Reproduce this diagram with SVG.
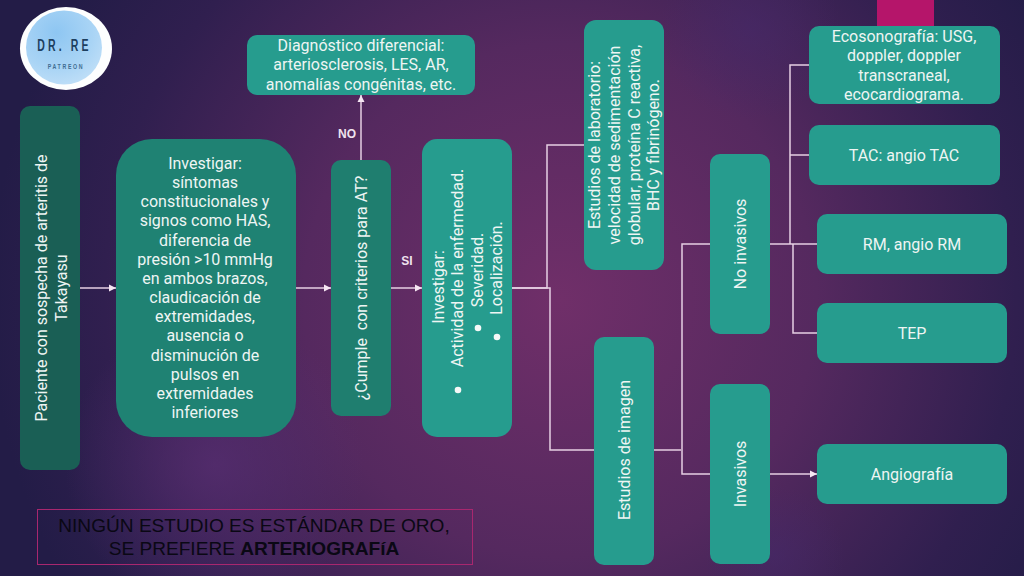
<svg xmlns="http://www.w3.org/2000/svg" width="1024" height="576" viewBox="0 0 1024 576">
<defs>
<radialGradient id="bg" gradientUnits="userSpaceOnUse" cx="560" cy="300" r="570"><stop offset="0" stop-color="#702f69"/><stop offset="0.45" stop-color="#55295f"/><stop offset="0.8" stop-color="#301f4f"/><stop offset="1" stop-color="#231c47"/></radialGradient>
<radialGradient id="g1" gradientUnits="userSpaceOnUse" cx="750" cy="30" r="90"><stop offset="0" stop-color="#452a6c" stop-opacity="0.5"/><stop offset="1" stop-color="#452a6c" stop-opacity="0"/></radialGradient>
<radialGradient id="g2" gradientUnits="userSpaceOnUse" cx="775" cy="556" r="70"><stop offset="0" stop-color="#452a6c" stop-opacity="0.5"/><stop offset="1" stop-color="#452a6c" stop-opacity="0"/></radialGradient>
<radialGradient id="g3" gradientUnits="userSpaceOnUse" cx="215" cy="465" r="150"><stop offset="0" stop-color="#5a2f74" stop-opacity="0.7"/><stop offset="1" stop-color="#5a2f74" stop-opacity="0"/></radialGradient>
<radialGradient id="blue" cx="0.4" cy="0.3" r="0.8"><stop offset="0" stop-color="#8ec6f2"/><stop offset="0.6" stop-color="#a9d4f5"/><stop offset="1" stop-color="#c4e1f8"/></radialGradient>
<marker id="arr" markerWidth="8" markerHeight="8" refX="7" refY="4" orient="auto" markerUnits="userSpaceOnUse"><path d="M0 0.5L7 4L0 7.5Z" fill="#f6e6f3"/></marker>
</defs>
<style>
.t{font-family:Roboto,"Liberation Sans",sans-serif;font-size:16px;fill:#eef5f3;text-anchor:middle}
.s{font-family:"Liberation Sans",Arial,sans-serif;font-size:12px;font-weight:700;fill:#efe3ee;text-anchor:middle}
.c{fill:none;stroke:#e6cfe3;stroke-width:1.5}
.a{marker-end:url(#arr)}
.n{fill:#269c8e}
.b{fill:#f6f8f7}
.k{font-family:"Liberation Sans",Arial,sans-serif;font-size:19.1px;fill:#0a0814;text-anchor:middle}
</style>
<rect width="1024" height="576" fill="url(#bg)"/>
<rect width="1024" height="576" fill="url(#g1)"/>
<rect width="1024" height="576" fill="url(#g2)"/>
<rect width="1024" height="576" fill="url(#g3)"/>
<rect x="877" y="0" width="57" height="27" fill="#b5156a"/>

<g id="connectors">
<path class="c a" d="M80 288H116"/>
<path class="c a" d="M296 288H331"/>
<path class="c a" d="M391 288H422"/>
<path class="c a" d="M361 160V95"/>
<path class="c" d="M512 288H547V145H584"/>
<path class="c" d="M512 288H550V450H594"/>
<path class="c" d="M654 450H681"/>
<path class="c" d="M710 244H682V474H710"/>
<path class="c a" d="M770 474H817"/>
<path class="c" d="M770 244H817"/>
<path class="c" d="M809 65H790V244"/>
<path class="c" d="M790 155H809"/>
<path class="c" d="M793 244V333H817"/>
</g>

<g id="logo">
<ellipse cx="66" cy="48.5" rx="46" ry="41.5" fill="#fdfefe"/>
<ellipse cx="64" cy="47.5" rx="38" ry="37" fill="url(#blue)"/>
<text transform="translate(64.5 51) scale(.62 1)" font-family="'Liberation Sans',sans-serif" font-size="17" font-weight="700" fill="#1d3f5f" text-anchor="middle" letter-spacing="5">DR. RE</text>
<text transform="translate(66 69) scale(.7 1)" font-family="'Liberation Sans',sans-serif" font-size="7.5" font-weight="700" fill="#3f6d92" text-anchor="middle" letter-spacing="2.4">PATREON</text>
</g>

<g id="sospecha">
<rect x="20" y="106" width="60" height="364" rx="10" fill="#1a5f55"/>
<text class="t" transform="translate(47 288) rotate(-90)">Paciente con sospecha de arteritis de</text>
<text class="t" transform="translate(67 288) rotate(-90)">Takayasu</text>
</g>

<g id="investigar-sintomas">
<rect x="116" y="139" width="180" height="298" rx="36" fill="#1f8273"/>
<text class="t"><tspan x="205" y="169">Investigar:</tspan><tspan x="205" y="188">síntomas</tspan><tspan x="205" y="207">constitucionales y</tspan><tspan x="205" y="226">signos como HAS,</tspan><tspan x="205" y="246">diferencia de</tspan><tspan x="205" y="265">presión &gt;10 mmHg</tspan><tspan x="205" y="284">en ambos brazos,</tspan><tspan x="205" y="303">claudicación de</tspan><tspan x="205" y="322">extremidades,</tspan><tspan x="205" y="341">ausencia o</tspan><tspan x="205" y="361">disminución de</tspan><tspan x="205" y="380">pulsos en</tspan><tspan x="205" y="399">extremidades</tspan><tspan x="205" y="418">inferiores</tspan></text>
</g>

<g id="criterios">
<rect x="331" y="160" width="60" height="256" rx="10" fill="#1f7e6f"/>
<text class="t" xml:space="preserve" transform="translate(367 288) rotate(-90)">¿Cumple  con criterios para AT?</text>
</g>
<text class="s" x="347" y="138">NO</text>
<text class="s" x="407" y="265">SI</text>

<g id="investigar-actividad">
<rect x="422" y="139" width="90" height="298" rx="15" class="n"/>
<text class="t" transform="translate(444 287) rotate(-90)">Investigar:</text>
<text class="t" transform="translate(463 268) rotate(-90)">Actividad de la enfermedad.</text>
<text class="t" transform="translate(483 270) rotate(-90)">Severidad.</text>
<text class="t" transform="translate(502 268) rotate(-90)">Localización.</text>
<circle class="b" cx="458" cy="390" r="3.3"/>
<circle class="b" cx="478" cy="328" r="3.3"/>
<circle class="b" cx="497" cy="337" r="3.3"/>
</g>

<g id="diagnostico">
<rect x="247" y="35" width="228" height="60" rx="10" class="n"/>
<text class="t"><tspan x="361" y="51">Diagnóstico diferencial:</tspan><tspan x="361" y="70">arteriosclerosis, LES, AR,</tspan><tspan x="361" y="90">anomalías congénitas, etc.</tspan></text>
</g>

<g id="laboratorio">
<rect x="584" y="20" width="80" height="250" rx="12" class="n"/>
<text class="t" transform="translate(600 145) rotate(-90)">Estudios de laboratorio:</text>
<text class="t" transform="translate(620 145) rotate(-90)">velocidad de sedimentación</text>
<text class="t" transform="translate(640 145) rotate(-90)">globular, proteína C reactiva,</text>
<text class="t" transform="translate(659 145) rotate(-90)">BHC y fibrinógeno.</text>
</g>

<g id="imagen">
<rect x="594" y="337" width="60" height="228" rx="10" class="n"/>
<text class="t" transform="translate(630 450) rotate(-90)">Estudios de imagen</text>
</g>

<g id="no-invasivos">
<rect x="710" y="154" width="60" height="180" rx="10" class="n"/>
<text class="t" transform="translate(746 244) rotate(-90)">No invasivos</text>
</g>

<g id="invasivos">
<rect x="710" y="384" width="60" height="180" rx="10" class="n"/>
<text class="t" transform="translate(746 474) rotate(-90)">Invasivos</text>
</g>

<g id="eco">
<rect x="809" y="26" width="191" height="78" rx="10" class="n"/>
<text class="t"><tspan x="904" y="42">Ecosonografía: USG,</tspan><tspan x="904" y="61">doppler, doppler</tspan><tspan x="904" y="81">transcraneal,</tspan><tspan x="904" y="100">ecocardiograma.</tspan></text>
</g>
<g id="tac">
<rect x="809" y="125" width="191" height="60" rx="10" class="n"/>
<text class="t" x="904" y="161">TAC: angio TAC</text>
</g>
<g id="rm">
<rect x="817" y="214" width="190" height="60" rx="10" class="n"/>
<text class="t" x="912" y="250">RM, angio RM</text>
</g>
<g id="tep">
<rect x="817" y="303" width="190" height="60" rx="10" class="n"/>
<text class="t" x="912" y="339">TEP</text>
</g>
<g id="angio">
<rect x="817" y="444" width="190" height="60" rx="10" class="n"/>
<text class="t" x="912" y="480">Angiografía</text>
</g>

<g id="nota">
<rect x="37.5" y="509.5" width="435" height="55" fill="none" stroke="#a8276f" stroke-width="1"/>
<text class="k"><tspan x="254" y="532">NINGÚN ESTUDIO ES ESTÁNDAR DE ORO,</tspan><tspan x="254" y="555">SE PREFIERE <tspan font-weight="700">ARTERIOGRAFíA</tspan></tspan></text>
</g>
</svg>
